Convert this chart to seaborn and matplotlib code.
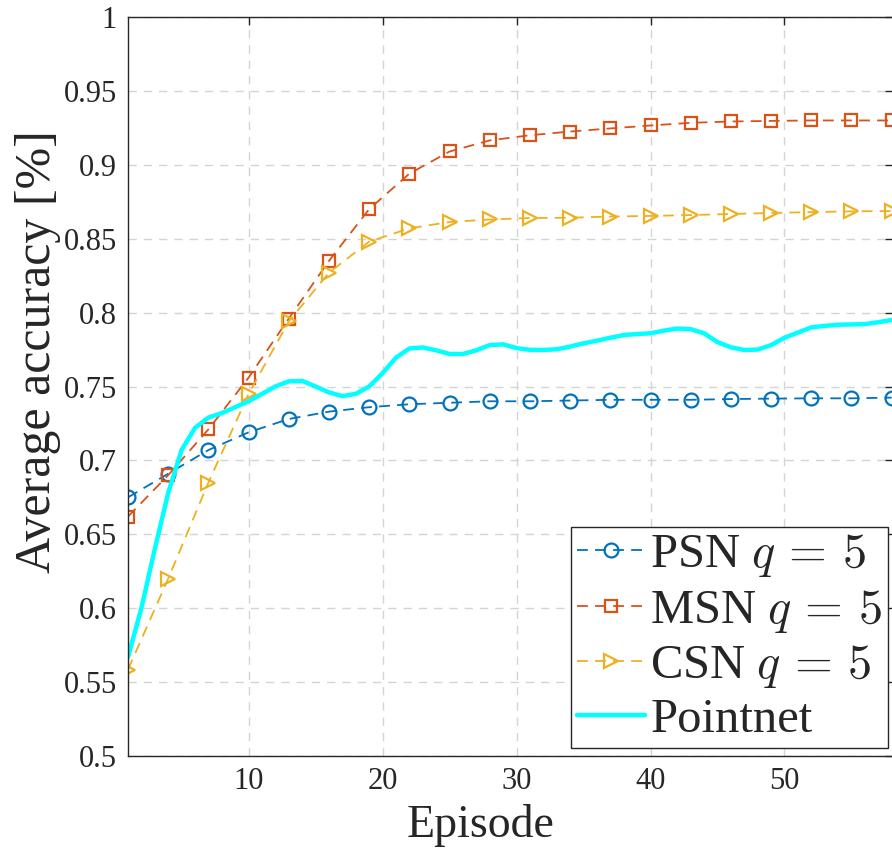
import numpy as np
import pandas as pd
import matplotlib
matplotlib.use("Agg")
import matplotlib.pyplot as plt
import seaborn as sns

# ---- data ----
marker_episodes = [1, 4, 7, 10, 13, 16, 19, 22, 25, 28, 31, 34, 37, 40, 43, 46, 49, 52, 55, 58]
psn = [0.675, 0.691, 0.707, 0.719, 0.728, 0.733, 0.736, 0.738, 0.739, 0.740,
       0.740, 0.7405, 0.741, 0.741, 0.741, 0.7415, 0.7418, 0.742, 0.742, 0.7425]
msn = [0.662, 0.690, 0.721, 0.756, 0.796, 0.835, 0.870, 0.894, 0.909, 0.9165,
       0.920, 0.9225, 0.9246, 0.9266, 0.9284, 0.9293, 0.9297, 0.930, 0.930, 0.930]
csn = [0.5585, 0.620, 0.685, 0.745, 0.794, 0.827, 0.848, 0.857, 0.8613, 0.863,
       0.864, 0.8642, 0.865, 0.8654, 0.866, 0.8667, 0.8674, 0.868, 0.8685, 0.8687]
pointnet_episodes = list(range(1, 59))
pointnet = [0.567, 0.600, 0.640, 0.678, 0.707, 0.722, 0.729, 0.732, 0.736, 0.740,
            0.745, 0.750, 0.7535, 0.7538, 0.750, 0.746, 0.7435, 0.745, 0.750, 0.759,
            0.7695, 0.7757, 0.7764, 0.7745, 0.772, 0.772, 0.7745, 0.778, 0.7785, 0.776,
            0.7748, 0.7747, 0.7752, 0.777, 0.7792, 0.781, 0.783, 0.7848, 0.7855, 0.786,
            0.7878, 0.7892, 0.7888, 0.786, 0.780, 0.7765, 0.7747, 0.775, 0.778, 0.783,
            0.7865, 0.790, 0.791, 0.7918, 0.792, 0.7922, 0.7935, 0.795]
labels = [r"PSN $q\,=\,5$", r"MSN $q\,=\,5$", r"CSN $q\,=\,5$", "Pointnet"]
x_ticks = [10, 20, 30, 40, 50]
y_ticks = [0.5, 0.55, 0.6, 0.65, 0.7, 0.75, 0.8, 0.85, 0.9, 0.95, 1.0]
y_ticklabels = ["0.5", "0.55", "0.6", "0.65", "0.7", "0.75", "0.8", "0.85", "0.9", "0.95", "1"]

sns.set_theme(style="white")
plt.rcParams["font.family"] = ["Liberation Serif", "DejaVu Serif"]
plt.rcParams["mathtext.fontset"] = "cm"

fig = plt.figure(figsize=(8.92, 8.5), dpi=100)
W, H = 892, 850
ax = fig.add_axes([128 / W, 1 - 756 / H, (893 - 128) / W, (756 - 17) / H])

marker_df = pd.DataFrame({"Episode": marker_episodes, "PSN": psn, "MSN": msn, "CSN": csn})
pn_df = pd.DataFrame({"Episode": pointnet_episodes, "Pointnet": pointnet})

styles = [("PSN", "#0072BD", "o", 10), ("MSN", "#D95319", "s", 9), ("CSN", "#EDB120", ">", 10)]
for (col, c, m, ms), lab in zip(styles, labels[:3]):
    sns.lineplot(data=marker_df, x="Episode", y=col, ax=ax, color=c, linestyle=(0, (6, 4)),
                 linewidth=1.3, marker=m, markersize=ms, markerfacecolor="none",
                 markeredgecolor=c, markeredgewidth=1.6, label=lab)
sns.lineplot(data=pn_df, x="Episode", y="Pointnet", ax=ax, color="#00FFFF", linewidth=3.2,
             label=labels[3])

ax.set_xlim(1, 58.1)
ax.set_ylim(0.5, 1.0)
ax.set_xticks(x_ticks)
ax.set_xticklabels([str(t) for t in x_ticks])
ax.set_yticks(y_ticks)
ax.set_yticklabels(y_ticklabels)
ax.tick_params(axis="both", which="major", direction="in", length=6, width=1.0,
               labelsize=22, colors="#262626", top=True, right=True, pad=8)
ax.grid(True, linestyle=(0, (6, 5)), color="#d4d4d4", linewidth=1.0)
for s in ax.spines.values():
    s.set_visible(True)
    s.set_color("#262626")
    s.set_linewidth(1.0)

ax.set_xlabel("Episode", fontsize=33, color="#262626", labelpad=0)
ax.xaxis.set_label_coords(0.461, -0.065)
ax.set_ylabel("Average accuracy [%]", fontsize=36, color="#262626", labelpad=4)
ax.yaxis.set_label_coords(-0.088, 0.547)

leg = ax.legend(loc="lower right", bbox_to_anchor=(0.9935, 0.0108), borderaxespad=0,
                fontsize=35, handlelength=1.4, handletextpad=0.1, labelspacing=0.17,
                borderpad=0.12, frameon=True, fancybox=False, framealpha=1,
                edgecolor="#262626", numpoints=1)
leg.get_frame().set_linewidth(1.0)

fig.savefig("out.png", dpi=100)
